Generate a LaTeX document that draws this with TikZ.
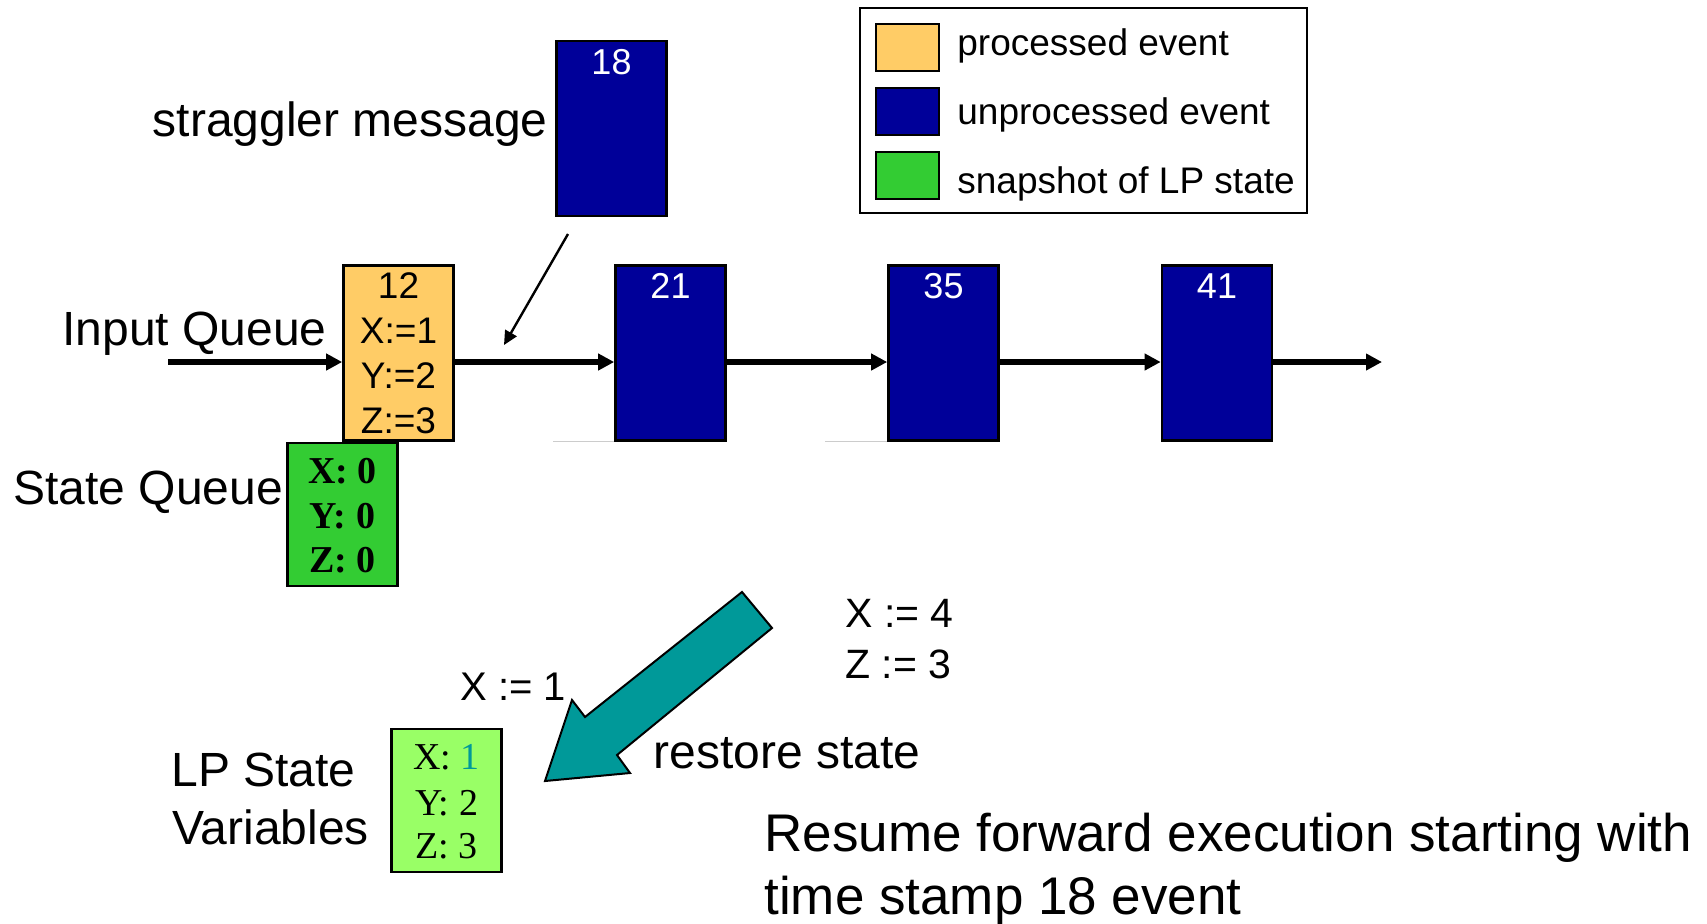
\documentclass[tikz,border=0pt]{standalone}
\usepackage{fontspec}
\setmainfont{Liberation Sans}
\newfontfamily\timesfont{Liberation Serif}
\usetikzlibrary{arrows.meta}
\definecolor{procd}{HTML}{FFCC66}
\definecolor{unproc}{HTML}{000099}
\definecolor{snap}{HTML}{33CC33}
\definecolor{lpgreen}{HTML}{99FF66}
\definecolor{restore}{HTML}{009999}
\newcommand{\ptsize}[1]{\fontsize{#1}{#1}\selectfont}

\begin{document}
\begin{tikzpicture}[x=0.5pt,y=-0.5pt,font=\ptsize{24},
    evbox/.style={draw=black,line width=1.3pt,minimum width=55pt,minimum height=87.5pt,inner sep=0pt},
    evnum/.style={anchor=base,inner sep=0pt,text=white,font=\ptsize{18}},
    lbl/.style={inner sep=0pt},
    qarrow/.style={line width=2.6pt,-{Triangle[length=8pt,width=8pt]}},
    swatch/.style={draw=black,line width=1pt,minimum width=31.5pt,minimum height=23.5pt,inner sep=0pt}]
  \useasboundingbox (0,0) rectangle (1707,923);

  % legend
  \node[draw,line width=1pt,minimum width=223.5pt,minimum height=102.5pt,inner sep=0pt] (legend) at (1083.5,110.5) {};
  \foreach \c/\t/\y/\b [count=\i] in {procd/processed event/47.5/55,unproc/unprocessed event/111.5/124,snap/snapshot of LP state/175.5/193} {
    \node[swatch,fill=\c] (key\i) at (907.5,\y) {};
    \node[lbl,anchor=base west,font=\ptsize{18.5}] (keytxt\i) at (957,\b) {\t};
  }

  % straggler
  \node[evbox,fill=unproc] (e18) at (611.5,128.5) {};
  \node[evnum] (e18num) at (611.5,74) {18};
  \node[lbl,anchor=base east] (stragtxt) at (548,136) {straggler message};
  \coordinate (strag) at (568,234);
  \coordinate (straghit) at (504,345);
  \draw[line width=1.2pt,-{Triangle[length=7pt,width=6.5pt]}] (strag) -- (straghit);

  % input queue
  \node[evbox,fill=procd] (e12) at (398.5,353) {};
  \foreach \t [count=\i] in {12,X:=1,Y:=2,Z:=3}
    \node[evnum,text=black,font=\ptsize{18.5}] (e12l\i) at (398.5,{253+45*\i}) {\t};
  \foreach \n/\x in {21/670.5,35/943.5,41/1217} {
    \node[evbox,fill=unproc] (e\n) at (\x,353) {};
    \node[evnum] (e\n num) at (\x,298) {\n};
  }
  \draw[gray!40,line width=0.6pt] (e21.south west) -- ++(-61,0);
  \draw[gray!40,line width=0.6pt] (e35.south west) -- ++(-62,0);
  \node[lbl,anchor=base west] (inq) at (62,345) {Input Queue};
  \coordinate (qin) at (168,362);
  \coordinate (qout) at (1382,362);
  \draw[qarrow] (qin) -- ([yshift=-4.5pt]e12.west);
  \foreach \a/\b in {e12/e21,e21/e35,e35/e41}
    \draw[qarrow] ([yshift=-4.5pt]\a.east) -- ([yshift=-4.5pt]\b.west);
  \draw[qarrow] ([yshift=-4.5pt]e41.east) -- (qout);

  % state queue
  \node[lbl,anchor=base west] (stq) at (13,504) {State Queue};
  \node[evbox,fill=snap,minimum height=71.5pt] (snapbox) at (342.5,514.5) {};
  \foreach \v/\y in {X/483,Y/528,Z/572}
    \node[lbl,anchor=base,font=\timesfont\bfseries\ptsize{19}] (snap\v) at (342.5,\y) {\v: 0};

  % restore
  \draw[fill=restore,line width=1pt] (742,592) -- (772,628) -- (617,755) -- (630,773)
    -- (545,781) -- (572,700) -- (585,717) -- cycle;
  \node[lbl,anchor=base west,font=\ptsize{20.5}] (x4) at (845,627) {X := 4};
  \node[lbl,anchor=base west,font=\ptsize{20.5}] (z3) at (845,678) {Z := 3};
  \node[lbl,anchor=base west,font=\ptsize{20}] (x1) at (460,700) {X := 1};
  \node[lbl,anchor=base west] (restxt) at (653,768) {restore state};

  % LP state variables
  \node[lbl,anchor=base west] (lp1) at (171,786) {LP State};
  \node[lbl,anchor=base west] (lp2) at (172,844) {Variables};
  \node[evbox,fill=lpgreen,minimum height=71.5pt] (lpbox) at (446.5,800.5) {};
  \node[lbl,anchor=base,font=\timesfont\ptsize{19}] (lpx) at (446.5,769) {X: \textcolor{restore}{1}};
  \node[lbl,anchor=base,font=\timesfont\ptsize{19}] (lpy) at (446.5,815) {Y: 2};
  \node[lbl,anchor=base,font=\timesfont\ptsize{19}] (lpz) at (446.5,858) {Z: 3};

  \node[lbl,anchor=base west,font=\ptsize{26.5}] (resume1) at (764,851) {Resume forward execution starting with};
  \node[lbl,anchor=base west,font=\ptsize{26.5}] (resume2) at (764,914) {time stamp 18 event};
\end{tikzpicture}
\end{document}
